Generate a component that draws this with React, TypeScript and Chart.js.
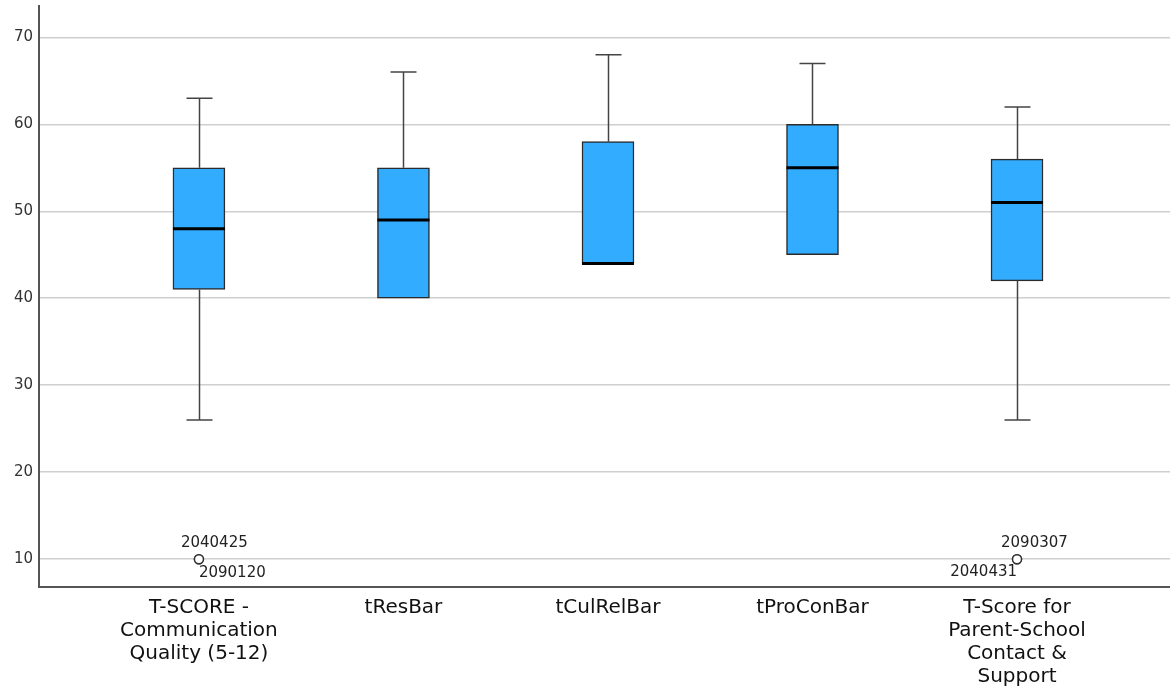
import React, { useEffect, useRef } from 'react';
import { Chart, registerables } from 'chart.js';

Chart.register(...registerables);

const categories: string[][] = [
  ['T-SCORE -', 'Communication', 'Quality (5-12)'],
  ['tResBar'],
  ['tCulRelBar'],
  ['tProConBar'],
  ['T-Score for', 'Parent-School', 'Contact &', 'Support'],
];
const whiskerLow = [26, 40, 44, 45, 26];
const q1 = [41, 40, 44, 45, 42];
const median = [48, 49, 44, 55, 51];
const q3 = [55, 55, 58, 60, 56];
const whiskerHigh = [63, 66, 68, 67, 62];

const outlierCategory = [0, 0, 4, 4];
const outlierValue = [10, 10, 10, 10];
const outlierId = ['2040425', '2090120', '2090307', '2040431'];

const yMin = 6.8;
const yMax = 73.6;
const yStep = 10;

// label placement for outlier IDs: [dx, dy, align]
const outlierLabelPlacement: [number, number, CanvasTextAlign][] = [
  [-18, -16, 'left'],
  [0, 14, 'left'],
  [-16, -16, 'left'],
  [0, 13, 'right'],
];

const boxPlugin = {
  id: 'boxExtras',
  afterDatasetsDraw(chart: any) {
    const { ctx } = chart;
    const xs = chart.scales.x;
    const ys = chart.scales.y;
    const half = 26;
    const cap = 13;
    ctx.save();
    // whiskers
    ctx.strokeStyle = '#444';
    ctx.lineWidth = 1.5;
    for (let i = 0; i < categories.length; i++) {
      const cx = Math.round(xs.getPixelForValue(i)) + 0.5;
      const segs: [number, number][] = [];
      if (whiskerHigh[i] > q3[i]) segs.push([q3[i], whiskerHigh[i]]);
      if (whiskerLow[i] < q1[i]) segs.push([q1[i], whiskerLow[i]]);
      for (const [from, to] of segs) {
        const y0 = ys.getPixelForValue(from);
        const y1 = ys.getPixelForValue(to);
        ctx.beginPath();
        ctx.moveTo(cx, y0);
        ctx.lineTo(cx, y1);
        ctx.moveTo(cx - cap, y1);
        ctx.lineTo(cx + cap, y1);
        ctx.stroke();
      }
    }
    // medians
    ctx.strokeStyle = '#000';
    ctx.lineWidth = 3;
    for (let i = 0; i < categories.length; i++) {
      const cx = xs.getPixelForValue(i);
      const y = ys.getPixelForValue(median[i]);
      ctx.beginPath();
      ctx.moveTo(cx - half, y);
      ctx.lineTo(cx + half, y);
      ctx.stroke();
    }
    // outlier labels
    ctx.fillStyle = '#222';
    ctx.font = '15px "DejaVu Sans"';
    ctx.textBaseline = 'middle';
    for (let k = 0; k < outlierId.length; k++) {
      const cx = xs.getPixelForValue(outlierCategory[k]);
      const cy = ys.getPixelForValue(outlierValue[k]);
      const [dx, dy, align] = outlierLabelPlacement[k];
      ctx.textAlign = align;
      ctx.fillText(outlierId[k], cx + dx, cy + dy);
    }
    ctx.restore();
  },
};

export default function App() {
  const ref = useRef<HTMLCanvasElement | null>(null);
  useEffect(() => {
    if (!ref.current) return;
    const chart = new Chart(ref.current, {
      type: 'bar',
      data: {
        datasets: [
          {
            type: 'bar',
            data: categories.map((_, i) => ({ x: i, y: [q1[i], q3[i]] })) as any,
            backgroundColor: '#31acff',
            borderColor: '#2b2b2b',
            borderWidth: 1.5,
            borderSkipped: false,
            barThickness: 52,
          } as any,
          {
            type: 'scatter',
            data: outlierValue.map((v, k) => ({ x: outlierCategory[k], y: v })),
            pointRadius: 4.5,
            pointBackgroundColor: '#ffffff',
            pointBorderColor: '#333',
            pointBorderWidth: 1.5,
          } as any,
        ],
      },
      options: {
        animation: false,
        responsive: true,
        maintainAspectRatio: false,
        layout: { autoPadding: false, padding: { top: 6, right: 0, left: 0, bottom: 0 } },
        plugins: { legend: { display: false }, tooltip: { enabled: false } },
        scales: {
          x: {
            type: 'linear',
            min: -0.782,
            max: 4.748,
            offset: false,
            afterFit: (s: any) => {
              s.height = 103;
              s.paddingLeft = 0;
              s.paddingRight = 0;
            },
            grid: { color: 'rgba(0,0,0,0)', drawTicks: false, offset: false },
            border: { display: true, color: '#555', width: 2 },
            ticks: {
              stepSize: 1,
              includeBounds: false,
              autoSkip: false,
              maxRotation: 0,
              minRotation: 0,
              padding: 9,
              color: '#111',
              font: { family: 'DejaVu Sans', size: 20, lineHeight: 1.15 },
              callback: (v: any) => (Number.isInteger(v) && categories[v] ? categories[v] : ''),
            },
          },
          y: {
            type: 'linear',
            min: yMin,
            max: yMax,
            afterFit: (s: any) => {
              s.width = 39;
              s.paddingTop = 0;
              s.paddingBottom = 0;
            },
            grid: { color: '#cfcfcf', lineWidth: 1.5, drawTicks: false },
            border: { display: true, color: '#555', width: 2 },
            ticks: {
              stepSize: yStep,
              includeBounds: false,
              padding: 6,
              color: '#333',
              font: { family: 'DejaVu Sans', size: 15 },
            },
          },
        },
      } as any,
      plugins: [boxPlugin],
    });
    return () => chart.destroy();
  }, []);
  return (
    <div style={{ position: 'absolute', left: 0, top: 0, width: 1170, height: 690, background: '#fff' }}>
      <canvas ref={ref} />
    </div>
  );
}
